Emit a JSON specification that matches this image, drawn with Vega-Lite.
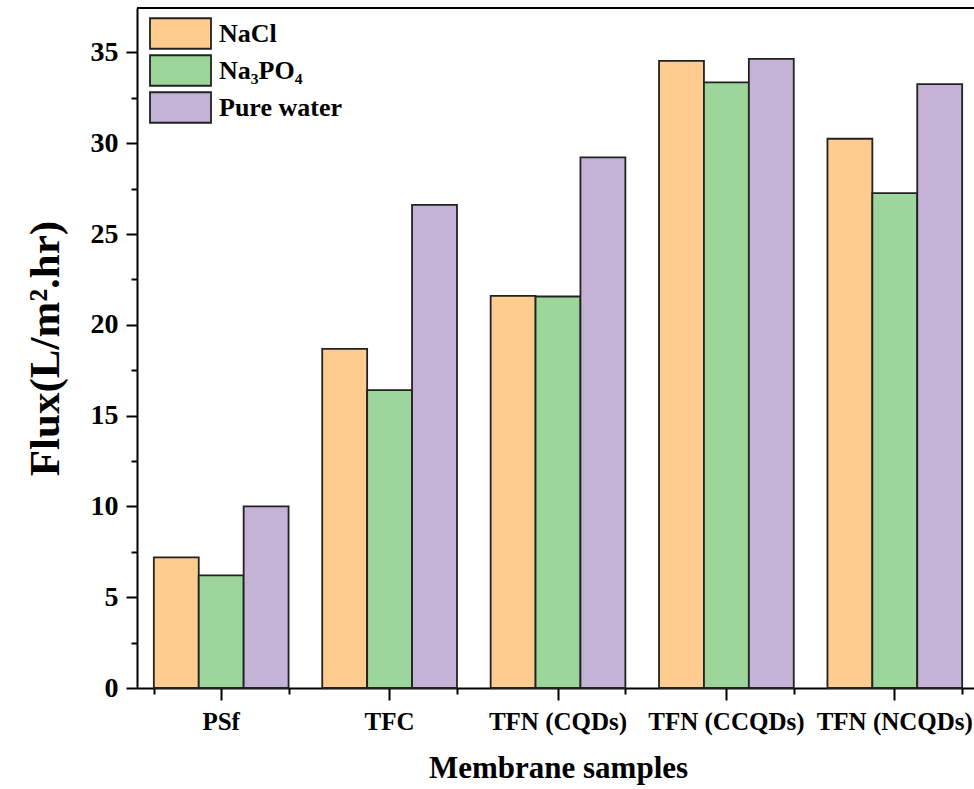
{
  "$schema": "https://vega.github.io/schema/vega-lite/v6.json",
  "width": 837,
  "height": 680,
  "autosize": {"type": "none"},
  "padding": {"left": 137, "top": 8, "right": 0, "bottom": 101},
  "background": "white",
  "config": {
    "font": "Liberation Serif",
    "view": {"stroke": null},
    "axis": {"domainColor": "black", "tickColor": "black", "labelColor": "black", "titleColor": "black", "labelFontWeight": "bold", "titleFontWeight": "bold", "grid": false}
  },
  "data": {
    "values": [
      {"sample": "PSf", "type": "NaCl", "flux": 7.19},
      {"sample": "PSf", "type": "Na₃PO₄", "flux": 6.2},
      {"sample": "PSf", "type": "Pure water", "flux": 10.0},
      {"sample": "TFC", "type": "NaCl", "flux": 18.68},
      {"sample": "TFC", "type": "Na₃PO₄", "flux": 16.41},
      {"sample": "TFC", "type": "Pure water", "flux": 26.61},
      {"sample": "TFN (CQDs)", "type": "NaCl", "flux": 21.6},
      {"sample": "TFN (CQDs)", "type": "Na₃PO₄", "flux": 21.56},
      {"sample": "TFN (CQDs)", "type": "Pure water", "flux": 29.22},
      {"sample": "TFN (CCQDs)", "type": "NaCl", "flux": 34.54},
      {"sample": "TFN (CCQDs)", "type": "Na₃PO₄", "flux": 33.35},
      {"sample": "TFN (CCQDs)", "type": "Pure water", "flux": 34.65},
      {"sample": "TFN (NCQDs)", "type": "NaCl", "flux": 30.25},
      {"sample": "TFN (NCQDs)", "type": "Na₃PO₄", "flux": 27.26},
      {"sample": "TFN (NCQDs)", "type": "Pure water", "flux": 33.26}
    ]
  },
  "resolve": {"axis": {"x": "independent", "y": "independent"}},
  "layer": [
    {
      "mark": {"type": "bar", "opacity": 0},
      "encoding": {
        "x": {"field": "sample", "type": "nominal", "sort": null,
          "scale": {"range": [0, 842], "paddingInner": 0.2, "paddingOuter": 0.1},
          "axis": {"orient": "bottom", "tickBand": "extent", "labels": false, "domain": false, "tickSize": 6, "tickWidth": 2, "title": null}},
        "y": {"field": "flux", "type": "quantitative", "scale": {"domain": [0, 37.45], "nice": false, "zero": true},
          "axis": {"orient": "left", "values": [2.5, 7.5, 12.5, 17.5, 22.5, 27.5, 32.5], "labels": false, "domain": false, "tickSize": 6, "tickWidth": 2, "title": null}}
      }
    },
    {
      "mark": {"type": "bar", "stroke": "#222222", "strokeWidth": 1.8, "opacity": 1},
      "encoding": {
        "x": {"field": "sample", "type": "nominal", "sort": null,
          "axis": {"orient": "bottom", "title": "Membrane samples", "labelAngle": 0, "labelFontSize": 25, "labelPadding": 9, "tickSize": 12, "tickWidth": 2, "domainWidth": 2, "titleFontSize": 31, "titlePadding": 19, "labelLimit": 300}},
        "xOffset": {"field": "type", "type": "nominal", "sort": ["NaCl", "Na₃PO₄", "Pure water"], "scale": {"paddingInner": 0, "paddingOuter": 0}},
        "y": {"field": "flux", "type": "quantitative",
          "axis": {"orient": "left", "title": "Flux(L/m².hr)", "values": [0, 5, 10, 15, 20, 25, 30, 35], "labelFontSize": 28, "labelPadding": 8, "tickSize": 11, "tickWidth": 2, "domainWidth": 2, "titleFontSize": 43, "titlePadding": 23}},
        "color": {"field": "type", "type": "nominal", "sort": ["NaCl", "Na₃PO₄", "Pure water"],
          "scale": {"domain": ["NaCl", "Na₃PO₄", "Pure water"], "range": ["#FECC8F", "#9CD69B", "#C5B3D7"]},
          "legend": {"title": null, "orient": "none", "legendX": 12, "legendY": 9, "symbolType": "M-1,-0.5H1V0.5H-1Z", "symbolSize": 3721, "symbolStrokeColor": "#222222", "symbolStrokeWidth": 1.8, "symbolOpacity": 1, "labelFontSize": 26, "labelFontWeight": "bold", "labelColor": "black", "labelOffset": 7, "clipHeight": 33, "rowPadding": 4, "labelLimit": 300}}
      }
    },
    {
      "mark": {"type": "rule", "color": "black", "strokeWidth": 2},
      "encoding": {"y": {"datum": 37.45, "type": "quantitative", "axis": null}}
    }
  ]
}
